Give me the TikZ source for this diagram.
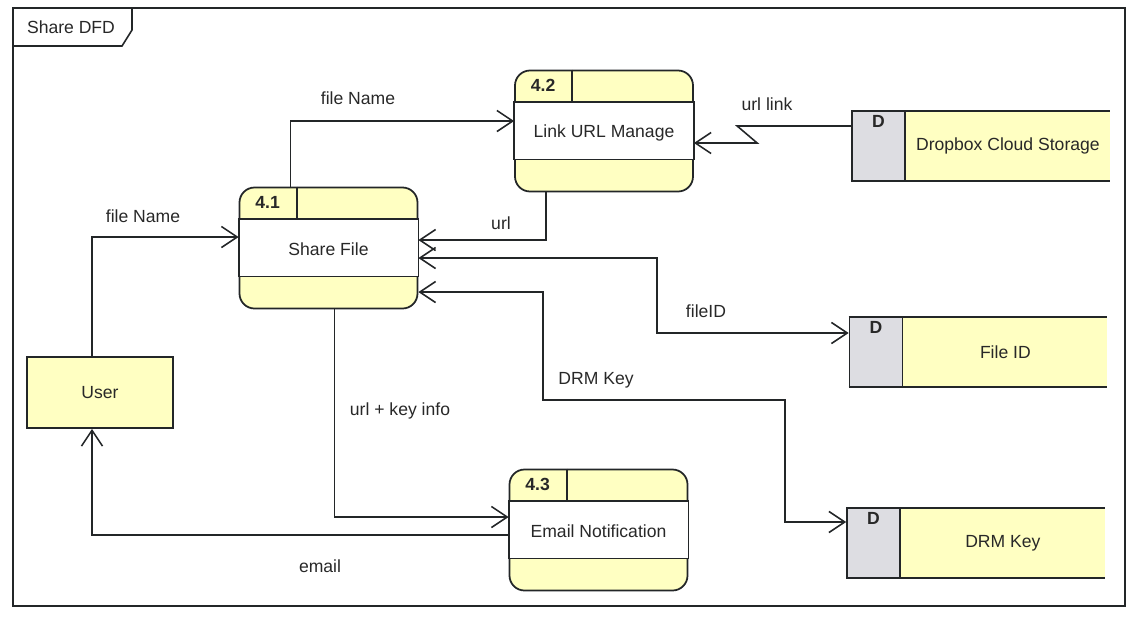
\documentclass[tikz,border=0pt]{standalone}
\usepackage{fontspec}
\setmainfont{Liberation Sans}
\usetikzlibrary{arrows.meta,calc}

\definecolor{procfill}{RGB}{255,255,194}
\definecolor{storegray}{RGB}{221,221,226}
\definecolor{inkline}{RGB}{35,38,40}
\definecolor{inktext}{RGB}{40,40,40}

\tikzset{
  >={Straight Barb[length=9pt,width=12pt]},
  frame/.style={draw=inkline, line width=0.9pt},
  proc/.style={draw=inkline, line width=1pt, fill=procfill, rounded corners=3mm,
    minimum width=35.6mm, minimum height=24.2mm, inner sep=0pt},
  procband/.style={draw=inkline, line width=1pt, fill=white},
  procline/.style={draw=inkline, line width=1pt},
  procid/.style={font=\fontsize{10}{12}\selectfont\bfseries, text=inktext},
  proctext/.style={font=\fontsize{10}{12}\selectfont, text=inktext},
  store/.style={fill=procfill, minimum width=51.6mm, minimum height=14mm, inner sep=0pt},
  storeline/.style={draw=inkline, line width=1pt},
  storeid/.style={draw=inkline, line width=1pt, fill=storegray, minimum width=10.6mm,
    minimum height=14mm, inner sep=0pt},
  storekey/.style={font=\fontsize{10}{12}\selectfont\bfseries, text=inktext},
  entity/.style={draw=inkline, line width=1pt, fill=procfill, minimum width=29.2mm,
    minimum height=14.2mm, font=\fontsize{10}{12}\selectfont, text=inktext},
  flow/.style={draw=inkline, line width=0.9pt, ->},
  lbl/.style={font=\fontsize{10}{12}\selectfont, text=inktext},
}

\begin{document}
\begin{tikzpicture}[x=0.2mm, y=-0.2mm]
  \useasboundingbox (0,0) rectangle (1136,621);

  % diagram frame with its name tab
  \draw[frame] (13,8) rectangle (1125,606);
  \draw[frame] (13,46) -- (122,46) -- (132,30) -- (132,8);
  \node[lbl] (title) at (71,27) {Share DFD};

  % processes
  \foreach \nm/\pos/\pid/\txt in {p41/{328.5,248}/4.1/Share File,
      p42/{604,131}/4.2/Link URL Manage, p43/{598.5,530}/4.3/Email Notification}{
    \node[proc] (\nm) at (\pos) {};
    \draw[procband] ([yshift=-6.4mm]\nm.north west) rectangle ([yshift=6.6mm]\nm.south east);
    \draw[procline] ([xshift=11.6mm]\nm.north west) -- ++(0,-6.4mm);
    \node[procid] (\nm-id) at ([xshift=5.8mm,yshift=-3.2mm]\nm.north west) {\pid};
    \node[proctext] (\nm-txt) at ([yshift=-0.3mm]\nm.center) {\txt};
  }

  % data stores
  \foreach \nm/\pos/\txt in {dbx/{980.5,146}/Dropbox Cloud Storage,
      fid/{978,352}/File ID, drm/{975.5,543}/DRM Key}{
    \node[store] (\nm) at (\pos) {};
    \draw[storeline] (\nm.north west) -- (\nm.north east) (\nm.south west) -- (\nm.south east);
    \node[storeid, anchor=west] (\nm-d) at (\nm.west) {};
    \node[storekey] (\nm-key) at ([yshift=-2.2mm]\nm-d.north) {D};
    \node[proctext] (\nm-txt) at ($(\nm-d.east)!0.5!(\nm.east)$) {\txt};
  }

  % external entity
  \node[entity] (user) at (100,392.5) {User};

  % flows
  \draw[flow] ([xshift=-1.6mm]user.north) |- ([yshift=2.2mm]p41.west);
  \draw[flow] ([xshift=-7.6mm]p41.north) |- ([yshift=2mm]p42.west);
  \draw[flow] ([yshift=4mm]dbx.west) -- ++(-114,0) -- ++(20,17) -- ([yshift=-2.4mm]p42.east);
  \draw[flow] ([xshift=-11.6mm]p42.south) |- ([yshift=1.6mm]p41.east);
  \draw[flow, <->] ([yshift=-2mm]p41.east) -| (657,333) -- ([yshift=3.8mm]fid.west);
  \draw[flow, <->] ([yshift=-8.8mm]p41.east) -| (543,400) -| (785,522) -- ([yshift=4.2mm]drm.west);
  \draw[flow] ([xshift=1.2mm]p41.south) |- ([yshift=2.6mm]p43.west);
  \draw[flow] ([yshift=-1mm]p43.west) -| ([xshift=-1.6mm]user.south);

  % flow labels
  \node[lbl] (l-name1) at (143,216) {file Name};
  \node[lbl] (l-name2) at (358,98) {file Name};
  \node[lbl] (l-link) at (767,104) {url link};
  \node[lbl] (l-url) at (501,223) {url};
  \node[lbl] (l-fid) at (706,311) {fileID};
  \node[lbl] (l-drm) at (596,380) {DRM Key};
  \node[lbl] (l-info) at (400,411) {url + key info};
  \node[lbl] (l-mail) at (320,566) {email};
\end{tikzpicture}
\end{document}
